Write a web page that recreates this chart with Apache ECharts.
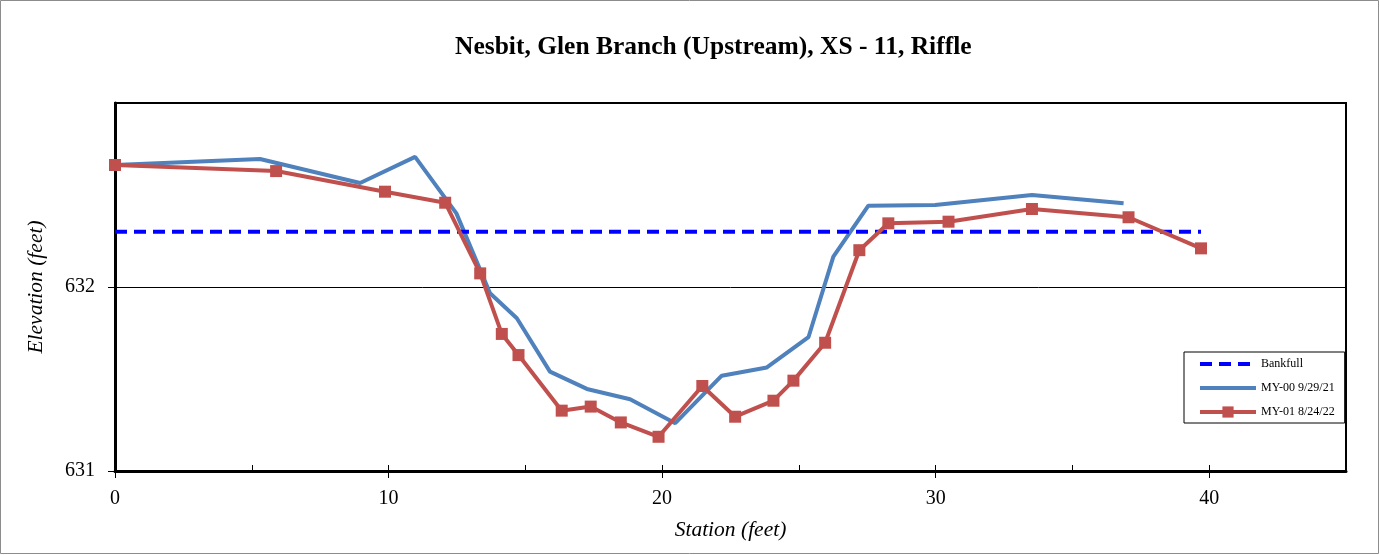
<!DOCTYPE html>
<html><head><meta charset="utf-8">
<script src="https://cdn.jsdelivr.net/npm/echarts@6/dist/echarts.min.js"></script>
<style>html,body{margin:0;padding:0;background:#fff}#c{width:1380px;height:555px}</style>
</head><body><div id="c"></div>
<script>
const titleText = "Nesbit, Glen Branch (Upstream), XS - 11, Riffle";
const xName = "Station (feet)";
const yName = "Elevation (feet)";
const bankfullName = "Bankfull";
const bankfullStation = [0, 39.7];
const bankfullElev = [632.30, 632.30];
const my00Name = "MY-00 9/29/21";
const my00Station = [0, 5.3, 8.96, 10.97, 12.48, 13.71, 14.69, 15.9, 17.25, 18.83, 20.48, 22.18, 23.83, 25.35, 26.26, 27.54, 29.98, 33.52, 36.87];
const my00Elev = [632.663, 632.696, 632.565, 632.707, 632.40, 631.966, 631.83, 631.54, 631.446, 631.39, 631.26, 631.518, 631.563, 631.727, 632.165, 632.442, 632.446, 632.50, 632.455];
const my01Name = "MY-01 8/24/22";
const my01Station = [0, 5.89, 9.87, 12.07, 13.35, 14.14, 14.75, 16.33, 17.39, 18.49, 19.87, 21.47, 22.67, 24.07, 24.8, 25.96, 27.21, 28.27, 30.47, 33.52, 37.05, 39.7];
const my01Elev = [632.663, 632.63, 632.518, 632.458, 632.074, 631.745, 631.63, 631.328, 631.35, 631.264, 631.186, 631.462, 631.295, 631.382, 631.491, 631.697, 632.20, 632.346, 632.355, 632.424, 632.379, 632.21];
const xMin = 0, xMax = 45, xInterval = 10, xMinorInterval = 5;
const yMin = 631, yMax = 633, yInterval = 1;

const zip = (a, b) => a.map((v, i) => [v, b[i]]);
const serif = "'Liberation Serif','Times New Roman',serif";
const hidden = {color:'rgba(0,0,0,0)', borderWidth:0, opacity:0};
const chart = echarts.init(document.getElementById('c'));
chart.setOption({
  animation: false,
  backgroundColor: '#fff',
  graphic: [{type:'rect', shape:{x:0.5,y:0.5,width:1378,height:553}, style:{fill:'none', stroke:'#8c8c8c', lineWidth:1}, silent:true}],
  title: {text: titleText, left: 450, top: 29, textStyle:{fontFamily: serif, fontSize: 25.5, fontWeight:'bold', color:'#000'}},
  grid: {left:115, right:34, top:103, bottom:84, show:true, borderColor:'#000', borderWidth:2, backgroundColor:'transparent'},
  legend: {
    orient:'vertical', left:1184, top:352, width:161,
    backgroundColor:'#fff', borderColor:'#000', borderWidth:1, borderRadius:0,
    padding:[6, 10, 5, 14], itemWidth:56, itemHeight:14, itemGap:12,
    textStyle:{fontFamily: serif, fontSize:12, color:'#000'},
    data:[
      {name:bankfullName, itemStyle:hidden, lineStyle:{width:4}},
      {name:my00Name, itemStyle:hidden, lineStyle:{width:4}},
      {name:my01Name, lineStyle:{width:4}}
    ]
  },
  xAxis: [{
    type:'value', min:xMin, max:xMax, interval:xInterval,
    name:xName, nameLocation:'middle', nameGap:48,
    nameTextStyle:{fontFamily: serif, fontSize:21.5, fontStyle:'italic', color:'#000'},
    axisLine:{show:true, onZero:false, lineStyle:{color:'#000', width:3}},
    axisTick:{show:true, inside:false, length:7, lineStyle:{color:'#000', width:1}},
    axisLabel:{fontFamily: serif, fontSize:20, color:'#000', margin:18, showMaxLabel:false},
    splitLine:{show:false}
  },{
    type:'value', min:xMin, max:xMax, interval:xMinorInterval, position:'bottom',
    axisLine:{show:false}, axisLabel:{show:false}, splitLine:{show:false},
    axisTick:{show:true, inside:true, length:6, lineStyle:{color:'#000', width:1}}
  }],
  yAxis: {
    type:'value', min:yMin, max:yMax, interval:yInterval,
    name:yName, nameLocation:'middle', nameGap:68,
    nameTextStyle:{fontFamily: serif, fontSize:21.5, fontStyle:'italic', color:'#000'},
    axisLine:{show:true, onZero:false, lineStyle:{color:'#000', width:3}},
    axisTick:{show:true, inside:false, length:7, lineStyle:{color:'#000', width:1}},
    axisLabel:{fontFamily: serif, fontSize:20, color:'#000', margin:20, showMaxLabel:false},
    splitLine:{show:true, lineStyle:{color:'#000', width:1}}
  },
  series: [
    {name:bankfullName, type:'line', data: zip(bankfullStation, bankfullElev), symbol:'none', z:3,
     lineStyle:{color:'#0000ff', width:4, type:[12,7]}, itemStyle:{color:'#0000ff'}},
    {name:my00Name, type:'line', data: zip(my00Station, my00Elev), symbol:'none', z:2,
     lineStyle:{color:'#4f81bd', width:4}, itemStyle:{color:'#4f81bd'}},
    {name:my01Name, type:'line', data: zip(my01Station, my01Elev), symbol:'rect', symbolSize:12, z:4,
     lineStyle:{color:'#c0504d', width:4}, itemStyle:{color:'#c0504d'}}
  ]
});
</script></body></html>
